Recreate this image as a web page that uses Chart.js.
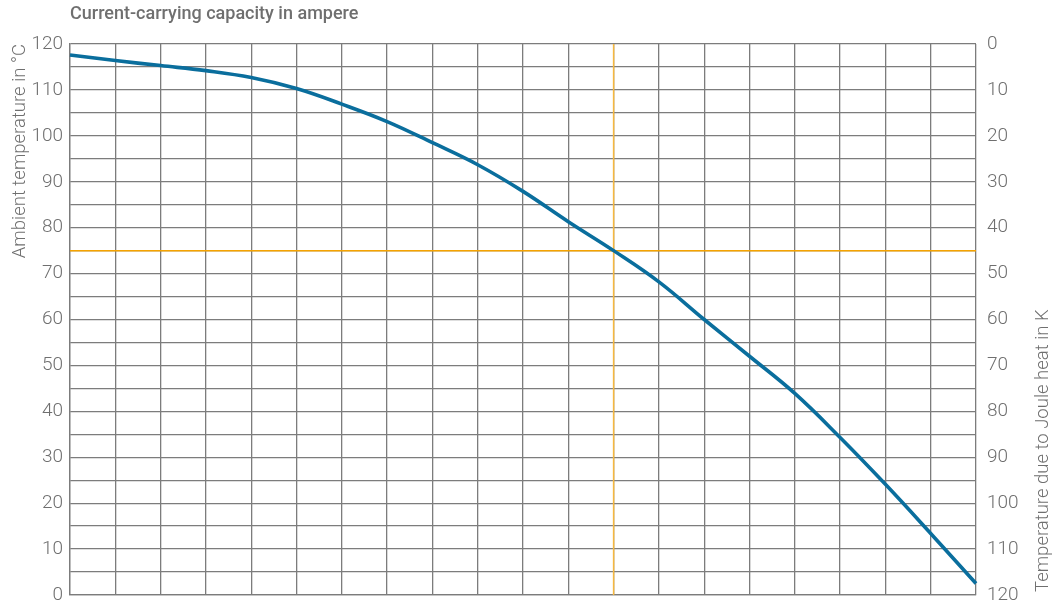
<!DOCTYPE html>
<html>
<head>
<meta charset="utf-8">
<script src="https://cdn.jsdelivr.net/npm/chart.js@4.4.1/dist/chart.umd.min.js"></script>
<style>
html, body { margin: 0; background: #fff; }
#wrap { width: 1061px; height: 607px; }
</style>
</head>
<body>
<div id="wrap"><canvas id="chart"></canvas></div>
<script>
// current in grid columns (the picture has no ampere values on the axis)
const currentSteps = [0, 1, 2, 3, 4, 5, 6, 7, 8, 9, 10, 11, 12, 13, 14, 15, 16, 17, 18, 19, 20];
const ambientTemp = [117.6, 116.4, 115.3, 114.2, 112.7, 110.3, 106.9, 103.1, 98.5, 93.7, 87.9,
                     81.3, 75.0, 68.2, 60.0, 52.0, 43.9, 34.3, 24.1, 13.4, 2.5];

// orange reading lines
const markerCurrent = 12;
const markerTemp = 75;

const tempMin = 0;
const tempMax = 120;
const currentMin = 0;
const currentMax = 20;

const textColor = '#6f6f6f';
const gridColor = '#7c7c7c';
const tickFont = { family: 'Roboto', size: 19, weight: '300' };

// right axis title reads bottom-to-top, Chart.js would turn it the other way
const rightTitle = {
    id: 'rightTitle',
    afterDraw(chart) {
        const ctx = chart.ctx;
        ctx.save();
        ctx.translate(1043, 592);
        ctx.rotate(-Math.PI / 2);
        ctx.font = '300 18.5px Roboto';
        ctx.fillStyle = textColor;
        ctx.textAlign = 'left';
        ctx.textBaseline = 'middle';
        ctx.fillText('Temperature due to Joule heat in K', 0, 0);
        ctx.restore();
    }
};

// keep the plot area fixed: no extra room for half labels at the ends
function noEdgePadding(scale) {
    scale.paddingTop = 0;
    scale.paddingBottom = 0;
}

new Chart(document.getElementById('chart'), {
    type: 'line',
    data: {
        datasets: [
            {
                label: 'Ambient temperature',
                data: currentSteps.map((c, i) => ({ x: c, y: ambientTemp[i] })),
                borderColor: '#0a6e9d',
                borderWidth: 3.6,
                pointRadius: 0,
                tension: 0.4,
                clip: 4
            },
            {
                label: 'vertical marker',
                data: [{ x: markerCurrent, y: tempMin }, { x: markerCurrent, y: tempMax }],
                borderColor: '#f6b83e',
                borderWidth: 1.5,
                pointRadius: 0
            },
            {
                label: 'horizontal marker',
                data: [{ x: currentMin, y: markerTemp }, { x: currentMax, y: markerTemp }],
                borderColor: '#f5a300',
                borderWidth: 1.5,
                pointRadius: 0
            }
        ]
    },
    options: {
        responsive: true,
        maintainAspectRatio: false,
        animation: false,
        layout: { padding: 0 },
        plugins: {
            legend: { display: false },
            tooltip: { enabled: false }
        },
        scales: {
            x: {
                type: 'linear',
                position: 'bottom',
                min: currentMin,
                max: currentMax,
                ticks: { display: false, stepSize: 1, autoSkip: false },
                grid: { color: gridColor, lineWidth: 1.3, drawTicks: false },
                border: { color: gridColor, width: 1.3 },
                afterFit(scale) { scale.height = 12; }
            },
            xTop: {
                type: 'linear',
                position: 'top',
                min: currentMin,
                max: currentMax,
                ticks: { display: false },
                grid: { display: false, drawTicks: false },
                border: { display: false },
                title: {
                    display: true,
                    text: 'Current-carrying capacity in ampere',
                    align: 'start',
                    color: textColor,
                    font: { family: 'Roboto', size: 18, weight: '500' },
                    padding: { top: 4, bottom: 0 }
                },
                afterFit(scale) { scale.height = 44; }
            },
            y: {
                position: 'left',
                min: tempMin,
                max: tempMax,
                ticks: {
                    stepSize: 5,
                    autoSkip: false,
                    color: textColor,
                    font: tickFont,
                    padding: 7,
                    callback: v => (v % 10 === 0 ? v : '')
                },
                grid: { color: gridColor, lineWidth: 1.3, drawTicks: false },
                border: { color: gridColor, width: 1.3 },
                title: {
                    display: true,
                    text: 'Ambient temperature in °C',
                    align: 'end',
                    color: textColor,
                    font: { family: 'Roboto', size: 18.5, weight: '300' },
                    padding: { top: 9, bottom: 0 }
                },
                afterFit(scale) { scale.width = 70; noEdgePadding(scale); }
            },
            yRight: {
                position: 'right',
                min: tempMin,
                max: tempMax,
                reverse: true,
                ticks: {
                    stepSize: 10,
                    autoSkip: false,
                    color: textColor,
                    font: tickFont,
                    padding: 11
                },
                grid: { display: false, drawTicks: false },
                border: { display: false },
                afterFit(scale) { scale.width = 85; noEdgePadding(scale); }
            }
        }
    },
    plugins: [rightTitle]
});
</script>
</body>
</html>
